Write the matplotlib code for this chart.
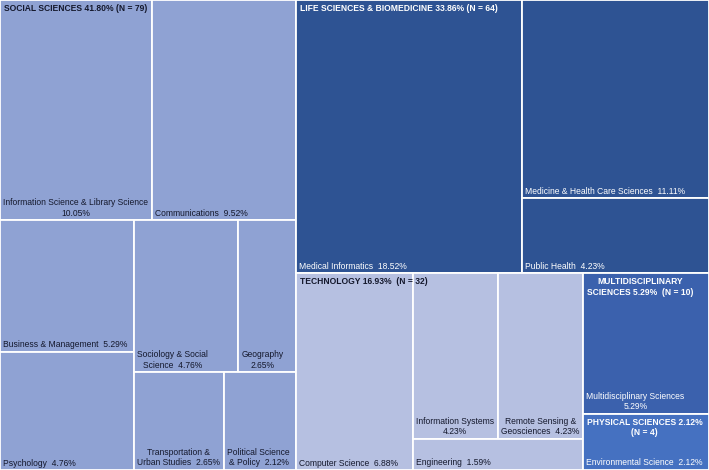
import matplotlib
matplotlib.use("Agg")
import matplotlib.pyplot as plt
from matplotlib.patches import Rectangle

plt.rcParams['font.family'] = ['Liberation Sans', 'DejaVu Sans']

# ---- data ----
groups = ["SOCIAL SCIENCES", "LIFE SCIENCES & BIOMEDICINE", "TECHNOLOGY",
          "MULTIDISCIPLINARY SCIENCES", "PHYSICAL SCIENCES"]
group_counts = [79, 64, 32, 10, 4]
group_pcts = [41.80, 33.86, 16.93, 5.29, 2.12]
group_colors = ["#8fa2d3", "#2e5393", "#b6c0e1", "#3b61ad", "#4571c1"]
group_text_colors = ["#14182c", "white", "#14182c", "white", "white"]

categories = ["Information Science & Library Science", "Communications",
              "Business & Management", "Psychology", "Sociology & Social Science",
              "Geography", "Transportation & Urban Studies", "Political Science & Policy",
              "Medical Informatics", "Medicine & Health Care Sciences", "Public Health",
              "Computer Science", "Information Systems", "Remote Sensing & Geosciences",
              "Engineering", "Multidisciplinary Sciences", "Environmental Science"]
counts = [19, 18, 10, 9, 9, 5, 5, 4, 35, 21, 8, 13, 8, 8, 3, 10, 4]
pcts = [10.05, 9.52, 5.29, 4.76, 4.76, 2.65, 2.65, 2.12,
        18.52, 11.11, 4.23, 6.88, 4.23, 4.23, 1.59, 5.29, 2.12]
cat_group = [0, 0, 0, 0, 0, 0, 0, 0, 1, 1, 1, 2, 2, 2, 2, 3, 4]
# label text as shown (line breaks)
cat_labels = ["Information Science & Library Science\n{p:.2f}%", "Communications  {p:.2f}%",
              "Business & Management  {p:.2f}%", "Psychology  {p:.2f}%",
              "Sociology & Social\nScience  {p:.2f}%", "Geography\n{p:.2f}%",
              "Transportation &\nUrban Studies  {p:.2f}%", "Political Science\n& Policy  {p:.2f}%",
              "Medical Informatics  {p:.2f}%", "Medicine & Health Care Sciences  {p:.2f}%",
              "Public Health  {p:.2f}%", "Computer Science  {p:.2f}%",
              "Information Systems\n{p:.2f}%", "Remote Sensing &\nGeosciences  {p:.2f}%",
              "Engineering  {p:.2f}%", "Multidisciplinary Sciences\n{p:.2f}%",
              "Environmental Science  {p:.2f}%"]
group_labels = ["{g} {p:.2f}% (N = {n})", "{g} {p:.2f}% (N = {n})",
                "{g} {p:.2f}%  (N = {n})", "MULTIDISCIPLINARY\nSCIENCES {p:.2f}%  (N = {n})",
                "PHYSICAL SCIENCES {p:.2f}%\n(N = {n})"]

# layout structure: 'h' = side by side, 'v' = stacked; leaves are category indices
tree = ('h', [
    ('v', [('h', [0, 1]),
           ('h', [('v', [2, 3]),
                  ('v', [('h', [4, 5]), ('h', [6, 7])])])]),
    ('v', [('h', [8, ('v', [9, 10])]),
           ('h', [('h', [11, ('v', [('h', [12, 13]), 14])]),
                  ('v', [15, 16])])])
])

W, H = 709, 470


def weight(node):
    if isinstance(node, int):
        return counts[node]
    return sum(weight(c) for c in node[1])


rects = {}


def layout(node, x, y, w, h):
    if isinstance(node, int):
        rects[node] = (x, y, w, h)
        return
    d, children = node
    tot = weight(node)
    pos = 0.0
    for c in children:
        f = weight(c) / tot
        if d == 'h':
            layout(c, x + pos * w, y, f * w, h)
        else:
            layout(c, x, y + pos * h, w, f * h)
        pos += f


layout(tree, 0, 0, W, H)

fig = plt.figure(figsize=(7.09, 4.70), dpi=100)
ax = fig.add_axes([0, 0, 1, 1])
ax.set_xlim(0, W)
ax.set_ylim(H, 0)
ax.axis('off')

fs = 6.15
for i, (x, y, w, h) in rects.items():
    g = cat_group[i]
    ax.add_patch(Rectangle((x, y), w, h, facecolor=group_colors[g],
                           edgecolor='white', linewidth=1.3))
    ax.text(x + 3, y + h - 2.5, cat_labels[i].format(p=pcts[i]), ha='left', va='bottom',
            multialignment='center', fontsize=fs, color=group_text_colors[g])

# group labels at the top-left of each group's bounding box
for g in range(len(groups)):
    xs = [rects[i] for i in rects if cat_group[i] == g]
    gx = min(r[0] for r in xs)
    gy = min(r[1] for r in xs)
    ax.text(gx + 3.5, gy + 4,
            group_labels[g].format(g=groups[g], p=group_pcts[g], n=group_counts[g]),
            ha='left', va='top', multialignment='center', fontsize=fs,
            fontweight='bold', color=group_text_colors[g])

fig.savefig("out.png", dpi=100)
